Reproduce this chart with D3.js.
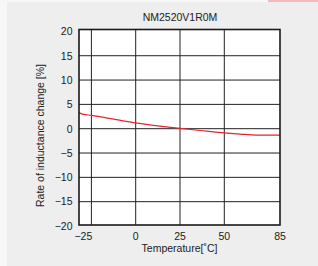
<!DOCTYPE html>
<html>
<head>
<meta charset="utf-8">
<script src="https://cdn.jsdelivr.net/npm/d3@7"></script>
<style>
  html, body { margin: 0; padding: 0; background: #f7f7f7; }
  svg { display: block; font-family: "Liberation Sans", Arial, sans-serif; }
</style>
</head>
<body>
<div id="chart"></div>
<script>
// chart data
var title = "NM2520V1R0M";
var xTitle = "Temperature[\u02daC]";
var yTitle = "Rate of inductance change [%]";

var temps = [-32, -30, -25, -10, 0, 10, 25, 40, 50, 60, 70, 85];
var change = [3.3, 3.0, 2.75, 1.8, 1.2, 0.7, 0.05, -0.5, -0.85, -1.1, -1.3, -1.3];

var xTicks = [-25, 0, 25, 50, 85];
var yTicks = [20, 15, 10, 5, 0, -5, -10, -15, -20];

var width = 318, height = 266;

var svg = d3.select("#chart")
    .append("svg")
    .attr("width", width)
    .attr("height", height);

// grey panel behind everything
svg.append("rect")
    .attr("x", 7).attr("y", 2)
    .attr("width", width - 7).attr("height", height - 2)
    .style("fill", "#edeeed");

// small pink tab in the top right corner
svg.append("rect")
    .attr("x", 268).attr("y", 0)
    .attr("width", 50).attr("height", 2)
    .style("fill", "#f4b9b9");

var plot = { left: 79, right: 280, top: 29.5, bottom: 225 };

// the last segment (50..85) is squeezed in the original axis
var x = d3.scaleLinear()
    .domain([-32, 50, 85])
    .range([plot.left, 224.3, plot.right]);

var y = d3.scaleLinear()
    .domain([-20, 20])
    .range([226, 31.4]);

// plot background
svg.append("rect")
    .attr("x", plot.left).attr("y", plot.top)
    .attr("width", plot.right - plot.left)
    .attr("height", plot.bottom - plot.top)
    .style("fill", "#ffffff");

// grid lines
svg.selectAll("line.vgrid")
    .data(xTicks.filter(function (t) { return t < 85; }))
    .enter().append("line")
    .attr("class", "vgrid")
    .attr("x1", function (d) { return x(d); })
    .attr("x2", function (d) { return x(d); })
    .attr("y1", plot.top).attr("y2", plot.bottom)
    .style("stroke", "#222")
    .style("stroke-width", "1px");

svg.selectAll("line.hgrid")
    .data(yTicks.filter(function (t) { return Math.abs(t) < 20; }))
    .enter().append("line")
    .attr("class", "hgrid")
    .attr("x1", plot.left).attr("x2", plot.right)
    .attr("y1", function (d) { return y(d); })
    .attr("y2", function (d) { return y(d); })
    .style("stroke", "#222")
    .style("stroke-width", "1px");

// the red curve
var line = d3.line()
    .x(function (d, i) { return x(temps[i]); })
    .y(function (d) { return y(d); })
    .curve(d3.curveMonotoneX);

svg.append("path")
    .datum(change)
    .attr("d", line)
    .style("fill", "none")
    .style("stroke", "#e3262e")
    .style("stroke-width", "1.2px");

// frame
svg.append("rect")
    .attr("x", plot.left).attr("y", plot.top)
    .attr("width", plot.right - plot.left)
    .attr("height", plot.bottom - plot.top)
    .style("fill", "none")
    .style("stroke", "#1a1a1a")
    .style("stroke-width", "1.6px");

var fmt = function (d) { return d < 0 ? "\u2212" + Math.abs(d) : String(d); };

// y tick labels
svg.selectAll("text.ylab")
    .data(yTicks)
    .enter().append("text")
    .attr("class", "ylab")
    .attr("x", 72.5)
    .attr("y", function (d) { return y(d) + 3.8; })
    .attr("text-anchor", "end")
    .style("font-size", "10.5px")
    .style("fill", "#222")
    .text(fmt);

// x tick labels
svg.selectAll("text.xlab")
    .data(xTicks)
    .enter().append("text")
    .attr("class", "xlab")
    .attr("x", function (d) { return x(d) + (d === -25 ? -8 : 0); })
    .attr("y", 239.5)
    .attr("text-anchor", "middle")
    .style("font-size", "10.5px")
    .style("fill", "#222")
    .text(fmt);

// titles
svg.append("text")
    .attr("x", 180).attr("y", 21)
    .attr("text-anchor", "middle")
    .style("font-size", "10.5px")
    .style("fill", "#222")
    .text(title);

svg.append("text")
    .attr("x", 179.5).attr("y", 251.5)
    .attr("text-anchor", "middle")
    .style("font-size", "10.5px")
    .style("fill", "#222")
    .text(xTitle);

svg.append("text")
    .attr("transform", "translate(44,135.5) rotate(-90)")
    .attr("text-anchor", "middle")
    .style("font-size", "10.5px")
    .style("fill", "#222")
    .text(yTitle);
</script>
</body>
</html>
